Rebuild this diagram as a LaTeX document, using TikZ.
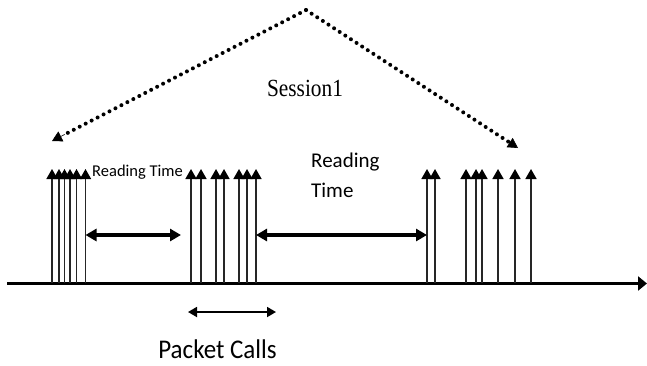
\documentclass[tikz,border=0pt]{standalone}
\usepackage{fontspec}
\setmainfont{Carlito}
\newfontfamily\serifface{Liberation Serif}
\usetikzlibrary{arrows.meta,calc}
\begin{document}
\begin{tikzpicture}[x=1pt,y=-1pt,
  packet/.style={line width=1.6pt,draw=black!85,-{Triangle[width=11pt,length=10pt,fill=black,color=black]}},
  gaparrow/.style={line width=3.2pt,{Triangle[width=12pt,length=11pt]}-{Triangle[width=12pt,length=11pt]}},
  callarrow/.style={line width=1.8pt,{Triangle[width=10pt,length=9pt]}-{Triangle[width=10pt,length=9pt]}},
  sessionline/.style={line width=4pt,line cap=round,dash pattern=on 0pt off 6.7pt},
  sessionhead/.style={line width=0.6pt,-{Triangle[width=11pt,length=10pt]}},
  axisline/.style={line width=3.6pt,-{Triangle[width=14pt,length=9pt]}},
  lbl/.style={inner sep=0pt,anchor=west}]
\useasboundingbox (0,0) rectangle (647,365);
% axis
\coordinate (axL) at (7,283.5);
\coordinate (axR) at (647,283.5);
\draw[axisline] (axL) -- (axR);
% packet arrows
\foreach \x [count=\i] in {52,59,64.5,70,76.5,85.5,191,201,216,224,239,247,256,427,435,466,476,482,498,515,531}{
  \coordinate (b\i) at (\x,283);
  \coordinate (t\i) at (\x,169);
  \draw[packet] (b\i) -- (t\i);
}
% reading time gaps
\coordinate (g1a) at (85.5,235);
\coordinate (g1b) at (181,235);
\draw[gaparrow] (g1a) -- (g1b);
\coordinate (g2a) at (256,235);
\coordinate (g2b) at (427,235);
\draw[gaparrow] (g2a) -- (g2b);
% packet calls arrow
\coordinate (pca) at (188,312);
\coordinate (pcb) at (276,312);
\draw[callarrow] (pca) -- (pcb);
% session
\coordinate (apex) at (306,10);
\coordinate (sL) at (52,141);
\coordinate (sR) at (518,148);
\draw[sessionline] (apex) -- ($(apex)!0.955!(sL)$);
\draw[sessionline] (apex) -- ($(apex)!0.955!(sR)$);
\draw[sessionhead] ($(apex)!0.95!(sL)$) -- (sL);
\draw[sessionhead] ($(apex)!0.95!(sR)$) -- (sR);
% labels
\node[inner sep=0pt] (session) at (305,88) {\serifface\fontsize{22}{26}\selectfont\scalebox{0.97}[1.12]{Session1}};
\node[lbl] (rt1) at (92,172) {\fontsize{16.5}{19}\selectfont Reading Time};
\node[lbl] (rt2a) at (311,162) {\fontsize{21}{25}\selectfont Reading};
\node[lbl] (rt2b) at (311,190) {\fontsize{21}{25}\selectfont Time};
\node[inner sep=0pt,anchor=base] (pc) at (217.5,358) {\fontsize{25}{30}\selectfont\scalebox{1}[1.08]{Packet Calls}};
\end{tikzpicture}
\end{document}
